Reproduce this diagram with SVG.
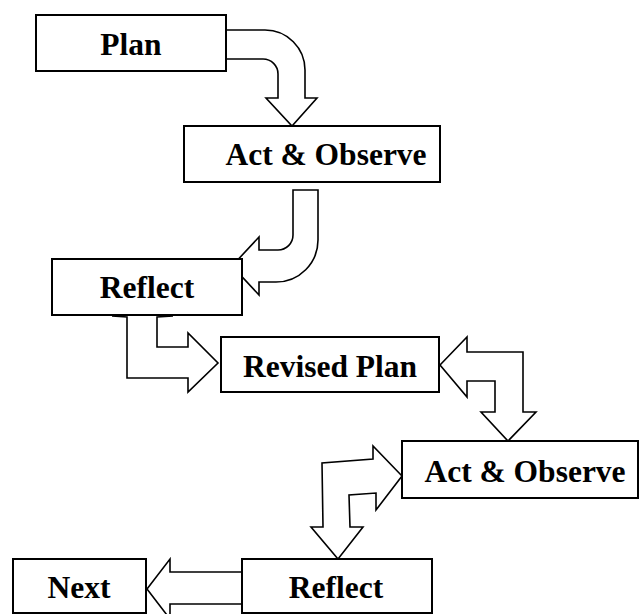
<svg xmlns="http://www.w3.org/2000/svg" width="640" height="614" viewBox="0 0 640 614">
<style>
.box{fill:#fff;stroke:#000;stroke-width:2}
.arr{fill:#fff;stroke:#000;stroke-width:1.6;stroke-linejoin:miter}
.lbl{font-family:"Liberation Serif","Times New Roman",serif;font-weight:bold;font-size:31.5px;fill:#000;text-anchor:middle}
</style>
<rect width="640" height="614" fill="#fff"/>
<g id="connectors">
<path class="arr" d="M226,30 H265 A40,40 0 0 1 305,70 V98 H317 L292,126 L266,98 H278 V74 A15,15 0 0 0 263,59 H226 Z"/>
<path class="arr" d="M293,190 H318 V240 A42,42 0 0 1 276,282 H259 V295 L232,266 L259,237 V250 H278 A15,15 0 0 0 293,235 Z"/>
<path class="arr" d="M112,316 L127,317 V378 H188 V392 L218,363 L188,333 V347 H157 V317 L173,316"/>
<path class="arr" d="M440,365 L467,337 V352 H523 V412 H536 L508,441 L481,412 H495 V381 H467 V397 Z"/>
<path class="arr" d="M402,476 L373,446 V459 L322,463 L323,527 H311 L338,559 L363,527 H350 L349,495 L376,493 V510 Z"/>
<path class="arr" d="M147,589 L170,559 V572 H244 V604 H170 V619 Z"/>
</g>
<g id="plan"><rect class="box" x="36" y="15" width="190" height="56"/><text class="lbl" x="131" y="55">Plan</text></g>
<g id="act1"><rect class="box" x="184" y="126" width="256" height="56"/><text class="lbl" x="326" y="165">Act &amp; Observe</text></g>
<g id="reflect1"><rect class="box" x="52" y="259" width="190" height="56"/><text class="lbl" x="147" y="298">Reflect</text></g>
<g id="revised"><rect class="box" x="221" y="337" width="218" height="55"/><text class="lbl" x="330" y="377">Revised Plan</text></g>
<g id="act2"><rect class="box" x="402" y="441" width="236" height="57"/><text class="lbl" x="525" y="482">Act &amp; Observe</text></g>
<g id="reflect2"><rect class="box" x="242" y="559" width="190" height="54"/><text class="lbl" x="336" y="598">Reflect</text></g>
<g id="next"><rect class="box" x="13" y="559" width="133" height="54"/><text class="lbl" x="79" y="598">Next</text></g>
</svg>
